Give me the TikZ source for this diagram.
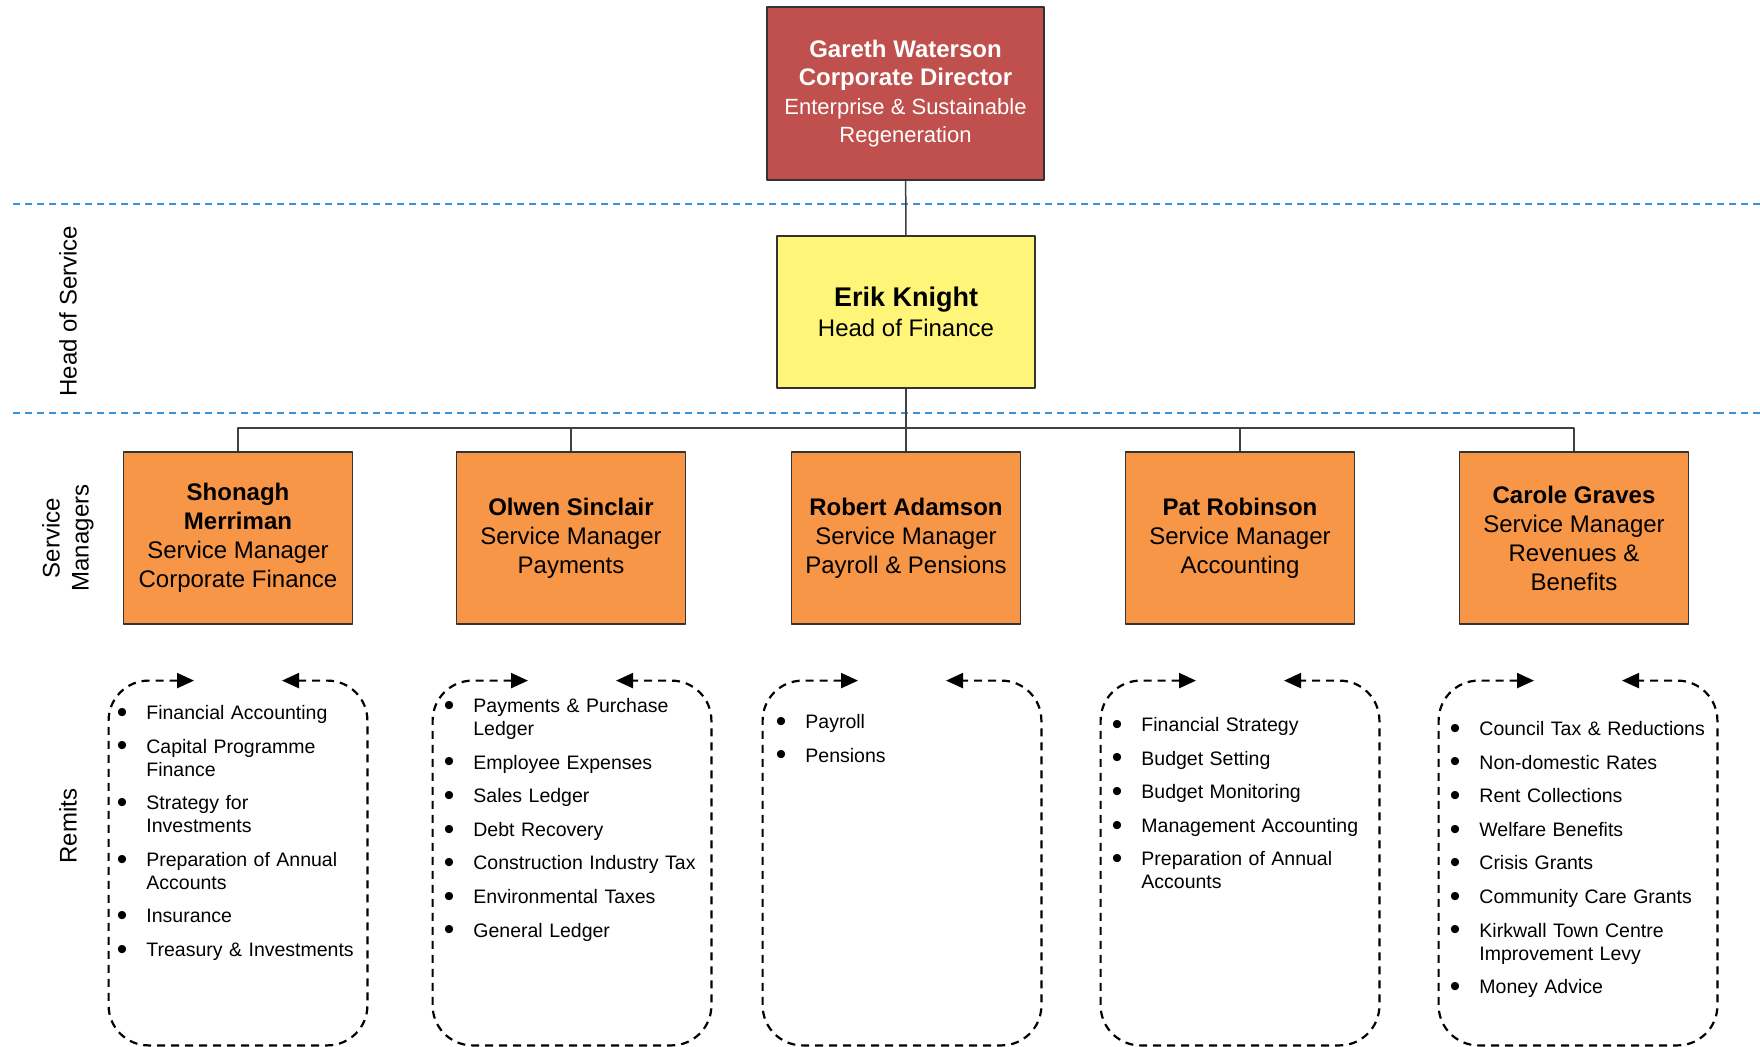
\documentclass[tikz,border=0pt]{standalone}
\usepackage{fontspec}
\setmainfont{Liberation Sans}
\usetikzlibrary{arrows.meta}
\definecolor{dirred}{RGB}{192,80,77}
\definecolor{headyellow}{RGB}{255,245,120}
\definecolor{mgrorange}{RGB}{247,150,70}
\definecolor{bandblue}{RGB}{60,145,220}
\newcommand\remitdot{\raisebox{-1.4pt}{\fontsize{15}{15}\selectfont\textbullet}}
\newenvironment{remitlist}{\list{\remitdot}{\setlength\leftmargin{20pt}\setlength\labelsep{9.5pt}%
  \setlength\labelwidth{10pt}\setlength\itemsep{5.3pt}\setlength\parsep{0pt}%
  \setlength\topsep{0pt}\setlength\partopsep{0pt}\setlength\itemindent{0pt}}}{\endlist}
\begin{document}
\begin{tikzpicture}[x=0.5pt,y=-0.5pt,line join=round,
  card/.style={draw=black!80,line width=0.75pt,align=center,inner sep=0pt,font=\fontsize{12}{14.5}\selectfont},
  mgr/.style={card,fill=mgrorange,minimum width=114.5pt,minimum height=86pt},
  link/.style={draw=black!75,line width=0.75pt},
  band/.style={bandblue,line width=0.9pt,dash pattern=on 3.5pt off 2.5pt},
  remit/.style={line width=1.1pt,dash pattern=on 4pt off 3pt,rounded corners=20pt,
    arrows={Triangle[length=8.5pt,width=7.5pt]-Triangle[length=8.5pt,width=7.5pt]}},
  remitbox/.style={inner sep=0pt,minimum height=182pt},
  items/.style={anchor=north west,inner sep=0pt,text width=135pt,align=left,font=\fontsize{9.75}{11.5}\selectfont},
  lbl/.style={rotate=90,align=center,inner sep=0pt,font=\fontsize{12}{14.5}\selectfont}]
\useasboundingbox (0,0) rectangle (1760,1047);

\draw[band] (13,204) -- (1760,204);
\draw[band] (13,413) -- (1760,413);

\node[lbl] (lhead) at (68,311) {Head of Service};
\node[lbl] (lmgr) at (68,538) {Service\\Managers};
\node[lbl] (lremit) at (68,826) {Remits};

\node[card,fill=dirred,text=white,minimum width=138.5pt,minimum height=86.5pt,font=\fontsize{11}{14.3}\selectfont] (dir) at (905.5,93.5)
  {{\fontsize{12}{14.3}\selectfont\bfseries Gareth Waterson}\\{\fontsize{12}{14.3}\selectfont\bfseries Corporate Director}\\Enterprise \& Sustainable\\Regeneration};
\node[card,fill=headyellow,minimum width=129pt,minimum height=76pt,font=\fontsize{12}{15}\selectfont] (head) at (906,312)
  {{\fontsize{13.5}{15}\selectfont\bfseries Erik Knight}\\Head of Finance};

\node[mgr] (m1) at (238,538) {\textbf{Shonagh}\\\textbf{Merriman}\\Service Manager\\Corporate Finance};
\node[mgr] (m2) at (571,538) {\textbf{Olwen Sinclair}\\Service Manager\\Payments};
\node[mgr] (m3) at (906,538) {\textbf{Robert Adamson}\\Service Manager\\Payroll \& Pensions};
\node[mgr] (m4) at (1240,538) {\textbf{Pat Robinson}\\Service Manager\\Accounting};
\node[mgr] (m5) at (1574,538) {\textbf{Carole Graves}\\Service Manager\\Revenues \&\\Benefits};

\coordinate (bus) at (906,428);
\draw[link] (dir) -- (head);
\draw[link] (head) -- (bus);
\foreach \m in {m1,m2,m3,m4,m5} \draw[link] (bus) -| (\m.north);

\node[remitbox,minimum width=129pt] (r1) at (238,863) {};
\node[remitbox,minimum width=139pt] (r2) at (572,863) {};
\node[remitbox,minimum width=139pt] (r3) at (902,863) {};
\node[remitbox,minimum width=139pt] (r4) at (1240,863) {};
\node[remitbox,minimum width=139pt] (r5) at (1578,863) {};
\foreach \r in {r1,r2,r3,r4,r5}
  \draw[remit] ([xshift=-22pt]\r.north) -- (\r.north west) -- (\r.south west) -- (\r.south east) -- (\r.north east) -- ([xshift=22pt]\r.north);

\node[items] (i1) at (106,696) {\begin{remitlist}
  \item Financial Accounting
  \item Capital Programme\newline Finance
  \item Strategy for\newline Investments
  \item Preparation of Annual\newline Accounts
  \item Insurance
  \item Treasury \& Investments
\end{remitlist}};
\node[items] (i2) at (433,689) {\begin{remitlist}
  \item Payments \& Purchase\newline Ledger
  \item Employee Expenses
  \item Sales Ledger
  \item Debt Recovery
  \item Construction Industry Tax
  \item Environmental Taxes
  \item General Ledger
\end{remitlist}};
\node[items] (i3) at (765,705) {\begin{remitlist}
  \item Payroll
  \item Pensions
\end{remitlist}};
\node[items] (i4) at (1101,708) {\begin{remitlist}
  \item Financial Strategy
  \item Budget Setting
  \item Budget Monitoring
  \item Management Accounting
  \item Preparation of Annual\newline Accounts
\end{remitlist}};
\node[items] (i5) at (1439,712) {\begin{remitlist}
  \item Council Tax \& Reductions
  \item Non-domestic Rates
  \item Rent Collections
  \item Welfare Benefits
  \item Crisis Grants
  \item Community Care Grants
  \item Kirkwall Town Centre\newline Improvement Levy
  \item Money Advice
\end{remitlist}};
\end{tikzpicture}
\end{document}
